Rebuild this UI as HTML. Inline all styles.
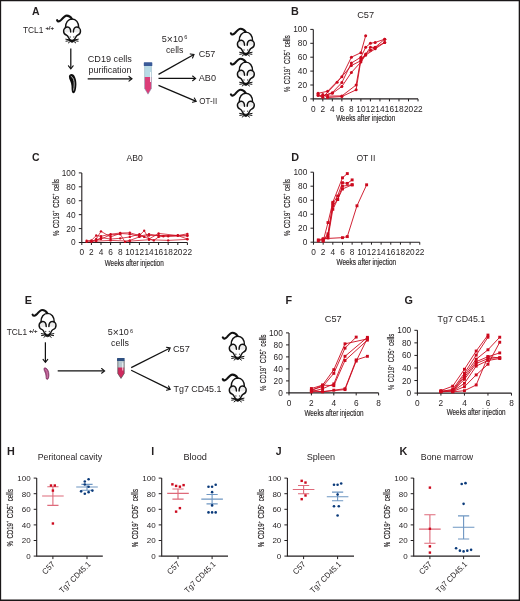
<!DOCTYPE html>
<html><head><meta charset="utf-8"><style>
html,body{margin:0;padding:0;background:#fff;}
svg{display:block;will-change:transform;}
text{font-family:"Liberation Sans", sans-serif;}
</style></head><body>
<svg width="520" height="601" viewBox="0 0 520 601" font-family="Liberation Sans, sans-serif">
<defs><g id="mouse" fill="none" stroke="#111" stroke-linecap="round" stroke-linejoin="round">
<ellipse cx="5" cy="15.2" rx="3.2" ry="2.4" fill="#ececec" stroke="none"/>
<ellipse cx="14.7" cy="15.2" rx="3.2" ry="2.4" fill="#ececec" stroke="none"/>
<path d="M-5.1 5.3 C-4.3 7.1 -2.6 6.8 -1 5 C0.8 2.8 2.6 0.7 4.6 0.7 C6.6 0.7 8.3 1.7 9.6 3.9" stroke-width="2.1"/>
<path d="M3.3 12.6 C3.2 7.5 6 4.1 9.9 4.1 C13.8 4.1 16.6 7.5 16.5 12.6" stroke-width="1.45"/>
<path d="M8.5 17.2 C8.6 14.2 7.3 12.2 5.3 12.2 C3.2 12.2 1.4 13.9 1.4 16 C1.4 18.3 2.8 19.9 4.5 20.3 C5.5 20.6 5.9 21.6 6.5 23 L8.3 25.7" stroke-width="1.45"/>
<path d="M11.2 17.2 C11.1 14.2 12.4 12.2 14.4 12.2 C16.5 12.2 18.3 13.9 18.3 16 C18.3 18.3 16.9 19.9 15.2 20.3 C14.2 20.6 13.8 21.6 13.2 23 L11.4 25.7" stroke-width="1.45"/>
<circle cx="8" cy="22.1" r="0.75" fill="#555" stroke="none"/>
<circle cx="11.7" cy="22.1" r="0.75" fill="#555" stroke="none"/>
<path d="M7.3 24.7 Q9.85 25.5 12.4 24.7 L11.4 26.9 Q9.85 28.2 8.3 26.9 Z" fill="#111" stroke-width="0.6"/>
<path d="M7.6 25 L3.6 24.3 M7.7 25.6 L3.8 26.3 M8.3 26.3 L6.2 28 M12.1 25 L16.1 24.3 M12 25.6 L15.9 26.3 M11.4 26.3 L13.5 28" stroke-width="1.0"/>
</g></defs>
<rect x="0" y="0" width="520" height="601" fill="#fff"/>
<path d="M0 0 H520 V1.15 H0 Z M0 0 H1.15 V601 H0 Z M518.7 0 H520 V601 H518.7 Z M0 599.6 H520 V601 H0 Z" fill="#1a1718"/>
<text x="32.00" y="14.60" font-size="10.5" text-anchor="start" font-weight="bold" fill="#231f20" >A</text>
<text x="23" y="32.8" font-size="9.3" fill="#231f20" textLength="20.4" lengthAdjust="spacingAndGlyphs">TCL1</text>
<text x="45.40" y="30.00" font-size="5.9" text-anchor="start" fill="#231f20" stroke="#231f20" stroke-width="0.2">+/+</text>
<use href="#mouse" transform="translate(62.20,14.90) scale(1.0)"/>
<path d="M70.80 48.50 L70.80 68.20" stroke="#111" stroke-width="1.25"/>
<path d="M68.45 65.80 L70.80 68.80 L73.15 65.80" stroke="#111" stroke-width="1.1" fill="none" stroke-linejoin="miter" stroke-linecap="round"/>
<path d="M71.5 74 C74.5 74 76.5 79 76.4 84 C76.3 89 75.5 93.2 73.5 93.2 C71.5 93.2 71.6 89 71.5 86 C71.4 82 68.8 79.5 68.9 76.6 C69 74.9 70.2 74 71.5 74 Z" fill="#0d0d0d"/>
<path d="M71.2 76.4 C73.4 77 74.3 81 74.2 84 C74.1 87 73.9 88.8 73.5 90.2" stroke="#b8b8b8" stroke-width="1.0" fill="none" stroke-linecap="round"/>
<text x="87.8" y="61.9" font-size="9" fill="#231f20" textLength="44" lengthAdjust="spacingAndGlyphs">CD19 cells</text>
<text x="88.6" y="72.9" font-size="9" fill="#231f20" textLength="42.8" lengthAdjust="spacingAndGlyphs">purification</text>
<path d="M87.70 78.80 L131.40 78.80" stroke="#111" stroke-width="1.25"/>
<path d="M129.00 81.15 L132.00 78.80 L129.00 76.45" stroke="#111" stroke-width="1.1" fill="none" stroke-linejoin="miter" stroke-linecap="round"/>
<path d="M144.6 66 H151.4 V88.5 L148 94.2 L144.6 88.5 Z" fill="#b9dbe6"/>
<path d="M144.6 77 H151.4 V88.5 L148 94.2 L144.6 88.5 Z" fill="#dc3c78"/>
<path d="M144.6 66 V88.5 L148 94.2 L151.4 88.5 V66" fill="none" stroke="#8aa8b8" stroke-width="0.5"/>
<rect x="150" y="72" width="0.9" height="10" fill="#fff"/>
<rect x="143.8" y="62.3" width="8.5" height="3.8" rx="0.6" fill="#3a5a98"/>
<path d="M158.50 74.40 L193.48 54.79" stroke="#111" stroke-width="1.25"/>
<path d="M192.53 58.02 L194.00 54.50 L190.23 53.92" stroke="#111" stroke-width="1.1" fill="none" stroke-linejoin="miter" stroke-linecap="round"/>
<path d="M158.50 78.40 L195.00 78.40" stroke="#111" stroke-width="1.25"/>
<path d="M192.60 80.75 L195.60 78.40 L192.60 76.05" stroke="#111" stroke-width="1.1" fill="none" stroke-linejoin="miter" stroke-linecap="round"/>
<path d="M158.50 85.40 L195.65 101.07" stroke="#111" stroke-width="1.25"/>
<path d="M192.52 102.30 L196.20 101.30 L194.35 97.97" stroke="#111" stroke-width="1.1" fill="none" stroke-linejoin="miter" stroke-linecap="round"/>
<text x="161.80" y="41.90" font-size="9.3" text-anchor="start" fill="#231f20" textLength="21.2" lengthAdjust="spacingAndGlyphs" >5<tspan font-size="10.6" dy="0.8">×</tspan><tspan dy="-0.8">10</tspan></text>
<text x="184.30" y="39.40" font-size="5.6" text-anchor="start" fill="#231f20" >6</text>
<text x="165.90" y="52.60" font-size="8.75" text-anchor="start" fill="#231f20" >cells</text>
<text x="198.70" y="56.90" font-size="9.0" text-anchor="start" fill="#231f20" >C57</text>
<text x="198.80" y="80.50" font-size="9.1" text-anchor="start" fill="#231f20" >AB0</text>
<text x="199.30" y="104.10" font-size="8.8" text-anchor="start" fill="#231f20" textLength="17.9" lengthAdjust="spacingAndGlyphs" >OT-II</text>
<use href="#mouse" transform="translate(236.00,28.00) scale(1.0)"/>
<use href="#mouse" transform="translate(236.00,58.00) scale(1.0)"/>
<use href="#mouse" transform="translate(236.00,89.10) scale(1.0)"/>
<text x="291.00" y="14.60" font-size="10.8" text-anchor="start" font-weight="bold" fill="#231f20" >B</text>
<text x="365.60" y="17.60" font-size="9.2" text-anchor="middle" fill="#231f20" >C57</text>
<path d="M313.30 29.40 V98.90 H418.02" fill="none" stroke="#231f20" stroke-width="1.1"/>
<path d="M310.30 98.90 H313.30" stroke="#231f20" stroke-width="1"/>
<text x="307.10" y="101.89" font-size="8.3" text-anchor="end" fill="#231f20" >0</text>
<path d="M310.30 85.00 H313.30" stroke="#231f20" stroke-width="1"/>
<text x="307.10" y="87.99" font-size="8.3" text-anchor="end" fill="#231f20" >20</text>
<path d="M310.30 71.10 H313.30" stroke="#231f20" stroke-width="1"/>
<text x="307.10" y="74.09" font-size="8.3" text-anchor="end" fill="#231f20" >40</text>
<path d="M310.30 57.20 H313.30" stroke="#231f20" stroke-width="1"/>
<text x="307.10" y="60.19" font-size="8.3" text-anchor="end" fill="#231f20" >60</text>
<path d="M310.30 43.30 H313.30" stroke="#231f20" stroke-width="1"/>
<text x="307.10" y="46.29" font-size="8.3" text-anchor="end" fill="#231f20" >80</text>
<path d="M310.30 29.40 H313.30" stroke="#231f20" stroke-width="1"/>
<text x="307.10" y="32.39" font-size="8.3" text-anchor="end" fill="#231f20" >100</text>
<path d="M313.30 98.90 V101.40" stroke="#231f20" stroke-width="1"/>
<text x="313.30" y="111.80" font-size="8.3" text-anchor="middle" fill="#231f20" >0</text>
<path d="M322.82 98.90 V101.40" stroke="#231f20" stroke-width="1"/>
<text x="322.82" y="111.80" font-size="8.3" text-anchor="middle" fill="#231f20" >2</text>
<path d="M332.34 98.90 V101.40" stroke="#231f20" stroke-width="1"/>
<text x="332.34" y="111.80" font-size="8.3" text-anchor="middle" fill="#231f20" >4</text>
<path d="M341.86 98.90 V101.40" stroke="#231f20" stroke-width="1"/>
<text x="341.86" y="111.80" font-size="8.3" text-anchor="middle" fill="#231f20" >6</text>
<path d="M351.38 98.90 V101.40" stroke="#231f20" stroke-width="1"/>
<text x="351.38" y="111.80" font-size="8.3" text-anchor="middle" fill="#231f20" >8</text>
<path d="M360.90 98.90 V101.40" stroke="#231f20" stroke-width="1"/>
<text x="360.90" y="111.80" font-size="8.3" text-anchor="middle" fill="#231f20" >10</text>
<path d="M370.42 98.90 V101.40" stroke="#231f20" stroke-width="1"/>
<text x="370.42" y="111.80" font-size="8.3" text-anchor="middle" fill="#231f20" >12</text>
<path d="M379.94 98.90 V101.40" stroke="#231f20" stroke-width="1"/>
<text x="379.94" y="111.80" font-size="8.3" text-anchor="middle" fill="#231f20" >14</text>
<path d="M389.46 98.90 V101.40" stroke="#231f20" stroke-width="1"/>
<text x="389.46" y="111.80" font-size="8.3" text-anchor="middle" fill="#231f20" >16</text>
<path d="M398.98 98.90 V101.40" stroke="#231f20" stroke-width="1"/>
<text x="398.98" y="111.80" font-size="8.3" text-anchor="middle" fill="#231f20" >18</text>
<path d="M408.50 98.90 V101.40" stroke="#231f20" stroke-width="1"/>
<text x="408.50" y="111.80" font-size="8.3" text-anchor="middle" fill="#231f20" >20</text>
<path d="M418.02 98.90 V101.40" stroke="#231f20" stroke-width="1"/>
<text x="418.02" y="111.80" font-size="8.3" text-anchor="middle" fill="#231f20" >22</text>
<path d="M318.06 93.34 L327.58 91.26 L341.86 76.66 L351.38 57.20 L360.90 52.68 L365.66 35.79" fill="none" stroke="#cc0a1e" stroke-width="0.9" stroke-linejoin="round"/>
<circle cx="318.06" cy="93.34" r="1.50" fill="#cc0a1e"/>
<circle cx="327.58" cy="91.26" r="1.50" fill="#cc0a1e"/>
<circle cx="341.86" cy="76.66" r="1.50" fill="#cc0a1e"/>
<circle cx="351.38" cy="57.20" r="1.50" fill="#cc0a1e"/>
<circle cx="360.90" cy="52.68" r="1.50" fill="#cc0a1e"/>
<circle cx="365.66" cy="35.79" r="1.50" fill="#cc0a1e"/>
<path d="M318.06 94.73 L322.82 96.12 L332.34 92.65 L341.86 82.57 L351.38 63.04 L360.90 57.20 L365.66 47.33 L370.42 43.30 L375.18 42.47 L384.70 39.13" fill="none" stroke="#cc0a1e" stroke-width="0.9" stroke-linejoin="round"/>
<circle cx="318.06" cy="94.73" r="1.50" fill="#cc0a1e"/>
<circle cx="322.82" cy="96.12" r="1.50" fill="#cc0a1e"/>
<circle cx="332.34" cy="92.65" r="1.50" fill="#cc0a1e"/>
<circle cx="341.86" cy="82.57" r="1.50" fill="#cc0a1e"/>
<circle cx="351.38" cy="63.04" r="1.50" fill="#cc0a1e"/>
<circle cx="360.90" cy="57.20" r="1.50" fill="#cc0a1e"/>
<circle cx="365.66" cy="47.33" r="1.50" fill="#cc0a1e"/>
<circle cx="370.42" cy="43.30" r="1.50" fill="#cc0a1e"/>
<circle cx="375.18" cy="42.47" r="1.50" fill="#cc0a1e"/>
<circle cx="384.70" cy="39.13" r="1.50" fill="#cc0a1e"/>
<path d="M318.06 95.43 L322.82 97.37 L337.10 82.22 L351.38 65.54 L360.90 60.68 L365.66 54.07 L370.42 47.33 L375.18 47.33 L384.70 39.13" fill="none" stroke="#cc0a1e" stroke-width="0.9" stroke-linejoin="round"/>
<circle cx="318.06" cy="95.43" r="1.50" fill="#cc0a1e"/>
<circle cx="322.82" cy="97.37" r="1.50" fill="#cc0a1e"/>
<circle cx="337.10" cy="82.22" r="1.50" fill="#cc0a1e"/>
<circle cx="351.38" cy="65.54" r="1.50" fill="#cc0a1e"/>
<circle cx="360.90" cy="60.68" r="1.50" fill="#cc0a1e"/>
<circle cx="365.66" cy="54.07" r="1.50" fill="#cc0a1e"/>
<circle cx="370.42" cy="47.33" r="1.50" fill="#cc0a1e"/>
<circle cx="375.18" cy="47.33" r="1.50" fill="#cc0a1e"/>
<circle cx="384.70" cy="39.13" r="1.50" fill="#cc0a1e"/>
<path d="M322.82 95.70 L332.34 93.34 L341.86 86.53 L351.38 72.49 L360.90 62.07 L365.66 55.12 L375.18 48.86 L384.70 42.47" fill="none" stroke="#cc0a1e" stroke-width="0.9" stroke-linejoin="round"/>
<circle cx="322.82" cy="95.70" r="1.50" fill="#cc0a1e"/>
<circle cx="332.34" cy="93.34" r="1.50" fill="#cc0a1e"/>
<circle cx="341.86" cy="86.53" r="1.50" fill="#cc0a1e"/>
<circle cx="351.38" cy="72.49" r="1.50" fill="#cc0a1e"/>
<circle cx="360.90" cy="62.07" r="1.50" fill="#cc0a1e"/>
<circle cx="365.66" cy="55.12" r="1.50" fill="#cc0a1e"/>
<circle cx="375.18" cy="48.86" r="1.50" fill="#cc0a1e"/>
<circle cx="384.70" cy="42.47" r="1.50" fill="#cc0a1e"/>
<path d="M327.58 96.12 L341.86 95.91 L356.14 85.00 L360.90 58.59 L370.42 50.25 L375.18 47.47 L384.70 42.47" fill="none" stroke="#cc0a1e" stroke-width="0.9" stroke-linejoin="round"/>
<circle cx="327.58" cy="96.12" r="1.50" fill="#cc0a1e"/>
<circle cx="341.86" cy="95.91" r="1.50" fill="#cc0a1e"/>
<circle cx="356.14" cy="85.00" r="1.50" fill="#cc0a1e"/>
<circle cx="360.90" cy="58.59" r="1.50" fill="#cc0a1e"/>
<circle cx="370.42" cy="50.25" r="1.50" fill="#cc0a1e"/>
<circle cx="375.18" cy="47.47" r="1.50" fill="#cc0a1e"/>
<circle cx="384.70" cy="42.47" r="1.50" fill="#cc0a1e"/>
<path d="M322.82 94.45 L327.58 97.51 L341.86 96.54 L356.14 89.87 L360.90 59.98 L365.66 55.12" fill="none" stroke="#cc0a1e" stroke-width="0.9" stroke-linejoin="round"/>
<circle cx="322.82" cy="94.45" r="1.50" fill="#cc0a1e"/>
<circle cx="327.58" cy="97.51" r="1.50" fill="#cc0a1e"/>
<circle cx="341.86" cy="96.54" r="1.50" fill="#cc0a1e"/>
<circle cx="356.14" cy="89.87" r="1.50" fill="#cc0a1e"/>
<circle cx="360.90" cy="59.98" r="1.50" fill="#cc0a1e"/>
<circle cx="365.66" cy="55.12" r="1.50" fill="#cc0a1e"/>
<text transform="translate(289.70,63.70) rotate(-90) scale(0.6807,1)" x="0" y="0" font-size="8.8" text-anchor="middle" fill="#231f20" stroke="#231f20" stroke-width="0.16" word-spacing="1.4">% CD19<tspan font-size="5.46" dy="-3.52">+</tspan><tspan dy="3.52"> CD5</tspan><tspan font-size="5.46" dy="-3.52">+</tspan><tspan dy="3.52"> cells</tspan></text>
<text stroke="#231f20" stroke-width="0.15" x="336.20" y="121.00" font-size="8.4" text-anchor="start" fill="#231f20" textLength="59.0" lengthAdjust="spacingAndGlyphs" >Weeks after injection</text>
<text x="32.00" y="160.60" font-size="10.5" text-anchor="start" font-weight="bold" fill="#231f20" >C</text>
<text x="134.60" y="160.60" font-size="8.6" text-anchor="middle" fill="#231f20" >AB0</text>
<path d="M81.80 172.90 V242.50 H187.40" fill="none" stroke="#231f20" stroke-width="1.1"/>
<path d="M78.80 242.50 H81.80" stroke="#231f20" stroke-width="1"/>
<text x="75.60" y="245.49" font-size="8.3" text-anchor="end" fill="#231f20" >0</text>
<path d="M78.80 228.58 H81.80" stroke="#231f20" stroke-width="1"/>
<text x="75.60" y="231.57" font-size="8.3" text-anchor="end" fill="#231f20" >20</text>
<path d="M78.80 214.66 H81.80" stroke="#231f20" stroke-width="1"/>
<text x="75.60" y="217.65" font-size="8.3" text-anchor="end" fill="#231f20" >40</text>
<path d="M78.80 200.74 H81.80" stroke="#231f20" stroke-width="1"/>
<text x="75.60" y="203.73" font-size="8.3" text-anchor="end" fill="#231f20" >60</text>
<path d="M78.80 186.82 H81.80" stroke="#231f20" stroke-width="1"/>
<text x="75.60" y="189.81" font-size="8.3" text-anchor="end" fill="#231f20" >80</text>
<path d="M78.80 172.90 H81.80" stroke="#231f20" stroke-width="1"/>
<text x="75.60" y="175.89" font-size="8.3" text-anchor="end" fill="#231f20" >100</text>
<path d="M81.80 242.50 V245.00" stroke="#231f20" stroke-width="1"/>
<text x="81.80" y="255.20" font-size="8.3" text-anchor="middle" fill="#231f20" >0</text>
<path d="M91.40 242.50 V245.00" stroke="#231f20" stroke-width="1"/>
<text x="91.40" y="255.20" font-size="8.3" text-anchor="middle" fill="#231f20" >2</text>
<path d="M101.00 242.50 V245.00" stroke="#231f20" stroke-width="1"/>
<text x="101.00" y="255.20" font-size="8.3" text-anchor="middle" fill="#231f20" >4</text>
<path d="M110.60 242.50 V245.00" stroke="#231f20" stroke-width="1"/>
<text x="110.60" y="255.20" font-size="8.3" text-anchor="middle" fill="#231f20" >6</text>
<path d="M120.20 242.50 V245.00" stroke="#231f20" stroke-width="1"/>
<text x="120.20" y="255.20" font-size="8.3" text-anchor="middle" fill="#231f20" >8</text>
<path d="M129.80 242.50 V245.00" stroke="#231f20" stroke-width="1"/>
<text x="129.80" y="255.20" font-size="8.3" text-anchor="middle" fill="#231f20" >10</text>
<path d="M139.40 242.50 V245.00" stroke="#231f20" stroke-width="1"/>
<text x="139.40" y="255.20" font-size="8.3" text-anchor="middle" fill="#231f20" >12</text>
<path d="M149.00 242.50 V245.00" stroke="#231f20" stroke-width="1"/>
<text x="149.00" y="255.20" font-size="8.3" text-anchor="middle" fill="#231f20" >14</text>
<path d="M158.60 242.50 V245.00" stroke="#231f20" stroke-width="1"/>
<text x="158.60" y="255.20" font-size="8.3" text-anchor="middle" fill="#231f20" >16</text>
<path d="M168.20 242.50 V245.00" stroke="#231f20" stroke-width="1"/>
<text x="168.20" y="255.20" font-size="8.3" text-anchor="middle" fill="#231f20" >18</text>
<path d="M177.80 242.50 V245.00" stroke="#231f20" stroke-width="1"/>
<text x="177.80" y="255.20" font-size="8.3" text-anchor="middle" fill="#231f20" >20</text>
<path d="M187.40 242.50 V245.00" stroke="#231f20" stroke-width="1"/>
<text x="187.40" y="255.20" font-size="8.3" text-anchor="middle" fill="#231f20" >22</text>
<path d="M86.60 240.69 L91.40 240.41 L96.20 235.54 L101.00 236.24 L110.60 234.15 L120.20 233.03 L129.80 232.76 L139.40 235.54 L144.20 230.67 L149.00 239.02 L158.60 233.45 L177.80 235.54 L187.40 233.80" fill="none" stroke="#cc0a1e" stroke-width="0.75" stroke-linejoin="round"/>
<circle cx="86.60" cy="240.69" r="1.17" fill="#cc0a1e"/>
<circle cx="91.40" cy="240.41" r="1.17" fill="#cc0a1e"/>
<circle cx="96.20" cy="235.54" r="1.17" fill="#cc0a1e"/>
<circle cx="101.00" cy="236.24" r="1.17" fill="#cc0a1e"/>
<circle cx="110.60" cy="234.15" r="1.17" fill="#cc0a1e"/>
<circle cx="120.20" cy="233.03" r="1.17" fill="#cc0a1e"/>
<circle cx="129.80" cy="232.76" r="1.17" fill="#cc0a1e"/>
<circle cx="139.40" cy="235.54" r="1.17" fill="#cc0a1e"/>
<circle cx="144.20" cy="230.67" r="1.17" fill="#cc0a1e"/>
<circle cx="149.00" cy="239.02" r="1.17" fill="#cc0a1e"/>
<circle cx="158.60" cy="233.45" r="1.17" fill="#cc0a1e"/>
<circle cx="177.80" cy="235.54" r="1.17" fill="#cc0a1e"/>
<circle cx="187.40" cy="233.80" r="1.17" fill="#cc0a1e"/>
<path d="M91.40 241.80 L96.20 239.02 L101.00 231.36 L110.60 236.93 L120.20 233.45 L129.80 234.15 L139.40 236.24 L149.00 234.15 L158.60 235.54 L168.20 236.24 L177.80 235.54 L187.40 235.19" fill="none" stroke="#cc0a1e" stroke-width="0.75" stroke-linejoin="round"/>
<circle cx="91.40" cy="241.80" r="1.17" fill="#cc0a1e"/>
<circle cx="96.20" cy="239.02" r="1.17" fill="#cc0a1e"/>
<circle cx="101.00" cy="231.36" r="1.17" fill="#cc0a1e"/>
<circle cx="110.60" cy="236.93" r="1.17" fill="#cc0a1e"/>
<circle cx="120.20" cy="233.45" r="1.17" fill="#cc0a1e"/>
<circle cx="129.80" cy="234.15" r="1.17" fill="#cc0a1e"/>
<circle cx="139.40" cy="236.24" r="1.17" fill="#cc0a1e"/>
<circle cx="149.00" cy="234.15" r="1.17" fill="#cc0a1e"/>
<circle cx="158.60" cy="235.54" r="1.17" fill="#cc0a1e"/>
<circle cx="168.20" cy="236.24" r="1.17" fill="#cc0a1e"/>
<circle cx="177.80" cy="235.54" r="1.17" fill="#cc0a1e"/>
<circle cx="187.40" cy="235.19" r="1.17" fill="#cc0a1e"/>
<path d="M96.20 240.41 L101.00 237.63 L110.60 239.02 L120.20 238.32 L129.80 236.93 L139.40 234.15 L144.20 236.93 L153.80 240.41 L158.60 236.93 L163.40 236.24 L187.40 235.89" fill="none" stroke="#cc0a1e" stroke-width="0.75" stroke-linejoin="round"/>
<circle cx="96.20" cy="240.41" r="1.17" fill="#cc0a1e"/>
<circle cx="101.00" cy="237.63" r="1.17" fill="#cc0a1e"/>
<circle cx="110.60" cy="239.02" r="1.17" fill="#cc0a1e"/>
<circle cx="120.20" cy="238.32" r="1.17" fill="#cc0a1e"/>
<circle cx="129.80" cy="236.93" r="1.17" fill="#cc0a1e"/>
<circle cx="139.40" cy="234.15" r="1.17" fill="#cc0a1e"/>
<circle cx="144.20" cy="236.93" r="1.17" fill="#cc0a1e"/>
<circle cx="153.80" cy="240.41" r="1.17" fill="#cc0a1e"/>
<circle cx="158.60" cy="236.93" r="1.17" fill="#cc0a1e"/>
<circle cx="163.40" cy="236.24" r="1.17" fill="#cc0a1e"/>
<circle cx="187.40" cy="235.89" r="1.17" fill="#cc0a1e"/>
<path d="M91.40 241.11 L101.00 239.02 L110.60 234.84 L120.20 234.15 L125.00 241.80 L129.80 240.41 L139.40 236.93 L149.00 235.54 L158.60 235.54 L177.80 235.54 L187.40 239.02" fill="none" stroke="#cc0a1e" stroke-width="0.75" stroke-linejoin="round"/>
<circle cx="91.40" cy="241.11" r="1.17" fill="#cc0a1e"/>
<circle cx="101.00" cy="239.02" r="1.17" fill="#cc0a1e"/>
<circle cx="110.60" cy="234.84" r="1.17" fill="#cc0a1e"/>
<circle cx="120.20" cy="234.15" r="1.17" fill="#cc0a1e"/>
<circle cx="125.00" cy="241.80" r="1.17" fill="#cc0a1e"/>
<circle cx="129.80" cy="240.41" r="1.17" fill="#cc0a1e"/>
<circle cx="139.40" cy="236.93" r="1.17" fill="#cc0a1e"/>
<circle cx="149.00" cy="235.54" r="1.17" fill="#cc0a1e"/>
<circle cx="158.60" cy="235.54" r="1.17" fill="#cc0a1e"/>
<circle cx="177.80" cy="235.54" r="1.17" fill="#cc0a1e"/>
<circle cx="187.40" cy="239.02" r="1.17" fill="#cc0a1e"/>
<path d="M86.60 241.80 L96.20 241.11 L110.60 240.41 L129.80 241.11 L149.00 239.72 L168.20 240.41 L187.40 239.37" fill="none" stroke="#cc0a1e" stroke-width="0.75" stroke-linejoin="round"/>
<circle cx="86.60" cy="241.80" r="1.17" fill="#cc0a1e"/>
<circle cx="96.20" cy="241.11" r="1.17" fill="#cc0a1e"/>
<circle cx="110.60" cy="240.41" r="1.17" fill="#cc0a1e"/>
<circle cx="129.80" cy="241.11" r="1.17" fill="#cc0a1e"/>
<circle cx="149.00" cy="239.72" r="1.17" fill="#cc0a1e"/>
<circle cx="168.20" cy="240.41" r="1.17" fill="#cc0a1e"/>
<circle cx="187.40" cy="239.37" r="1.17" fill="#cc0a1e"/>
<text transform="translate(58.50,207.50) rotate(-90) scale(0.6855,1)" x="0" y="0" font-size="8.8" text-anchor="middle" fill="#231f20" stroke="#231f20" stroke-width="0.16" word-spacing="1.4">% CD19<tspan font-size="5.46" dy="-3.52">+</tspan><tspan dy="3.52"> CD5</tspan><tspan font-size="5.46" dy="-3.52">+</tspan><tspan dy="3.52"> cells</tspan></text>
<text stroke="#231f20" stroke-width="0.15" x="104.70" y="265.50" font-size="8.4" text-anchor="start" fill="#231f20" textLength="59.0" lengthAdjust="spacingAndGlyphs" >Weeks after injection</text>
<text x="291.30" y="160.60" font-size="10.8" text-anchor="start" font-weight="bold" fill="#231f20" >D</text>
<text x="365.90" y="160.60" font-size="8.6" text-anchor="middle" fill="#231f20" >OT II</text>
<path d="M313.50 172.20 V242.20 H419.76" fill="none" stroke="#231f20" stroke-width="1.1"/>
<path d="M310.50 242.20 H313.50" stroke="#231f20" stroke-width="1"/>
<text x="307.30" y="245.19" font-size="8.3" text-anchor="end" fill="#231f20" >0</text>
<path d="M310.50 228.20 H313.50" stroke="#231f20" stroke-width="1"/>
<text x="307.30" y="231.19" font-size="8.3" text-anchor="end" fill="#231f20" >20</text>
<path d="M310.50 214.20 H313.50" stroke="#231f20" stroke-width="1"/>
<text x="307.30" y="217.19" font-size="8.3" text-anchor="end" fill="#231f20" >40</text>
<path d="M310.50 200.20 H313.50" stroke="#231f20" stroke-width="1"/>
<text x="307.30" y="203.19" font-size="8.3" text-anchor="end" fill="#231f20" >60</text>
<path d="M310.50 186.20 H313.50" stroke="#231f20" stroke-width="1"/>
<text x="307.30" y="189.19" font-size="8.3" text-anchor="end" fill="#231f20" >80</text>
<path d="M310.50 172.20 H313.50" stroke="#231f20" stroke-width="1"/>
<text x="307.30" y="175.19" font-size="8.3" text-anchor="end" fill="#231f20" >100</text>
<path d="M313.50 242.20 V244.70" stroke="#231f20" stroke-width="1"/>
<text x="313.50" y="255.20" font-size="8.3" text-anchor="middle" fill="#231f20" >0</text>
<path d="M323.16 242.20 V244.70" stroke="#231f20" stroke-width="1"/>
<text x="323.16" y="255.20" font-size="8.3" text-anchor="middle" fill="#231f20" >2</text>
<path d="M332.82 242.20 V244.70" stroke="#231f20" stroke-width="1"/>
<text x="332.82" y="255.20" font-size="8.3" text-anchor="middle" fill="#231f20" >4</text>
<path d="M342.48 242.20 V244.70" stroke="#231f20" stroke-width="1"/>
<text x="342.48" y="255.20" font-size="8.3" text-anchor="middle" fill="#231f20" >6</text>
<path d="M352.14 242.20 V244.70" stroke="#231f20" stroke-width="1"/>
<text x="352.14" y="255.20" font-size="8.3" text-anchor="middle" fill="#231f20" >8</text>
<path d="M361.80 242.20 V244.70" stroke="#231f20" stroke-width="1"/>
<text x="361.80" y="255.20" font-size="8.3" text-anchor="middle" fill="#231f20" >10</text>
<path d="M371.46 242.20 V244.70" stroke="#231f20" stroke-width="1"/>
<text x="371.46" y="255.20" font-size="8.3" text-anchor="middle" fill="#231f20" >12</text>
<path d="M381.12 242.20 V244.70" stroke="#231f20" stroke-width="1"/>
<text x="381.12" y="255.20" font-size="8.3" text-anchor="middle" fill="#231f20" >14</text>
<path d="M390.78 242.20 V244.70" stroke="#231f20" stroke-width="1"/>
<text x="390.78" y="255.20" font-size="8.3" text-anchor="middle" fill="#231f20" >16</text>
<path d="M400.44 242.20 V244.70" stroke="#231f20" stroke-width="1"/>
<text x="400.44" y="255.20" font-size="8.3" text-anchor="middle" fill="#231f20" >18</text>
<path d="M410.10 242.20 V244.70" stroke="#231f20" stroke-width="1"/>
<text x="410.10" y="255.20" font-size="8.3" text-anchor="middle" fill="#231f20" >20</text>
<path d="M419.76 242.20 V244.70" stroke="#231f20" stroke-width="1"/>
<text x="419.76" y="255.20" font-size="8.3" text-anchor="middle" fill="#231f20" >22</text>
<path d="M318.33 239.89 L323.16 238.70 L342.48 237.65 L347.31 236.60 L356.97 205.80 L366.63 184.80" fill="none" stroke="#cc0a1e" stroke-width="0.9" stroke-linejoin="round"/>
<rect x="316.88" y="238.44" width="2.90" height="2.90" fill="#cc0a1e"/>
<rect x="321.71" y="237.25" width="2.90" height="2.90" fill="#cc0a1e"/>
<rect x="341.03" y="236.20" width="2.90" height="2.90" fill="#cc0a1e"/>
<rect x="345.86" y="235.15" width="2.90" height="2.90" fill="#cc0a1e"/>
<rect x="355.52" y="204.35" width="2.90" height="2.90" fill="#cc0a1e"/>
<rect x="365.18" y="183.35" width="2.90" height="2.90" fill="#cc0a1e"/>
<path d="M323.16 241.15 L327.99 222.60 L332.82 202.30 L342.48 177.80 L347.31 173.60" fill="none" stroke="#cc0a1e" stroke-width="0.9" stroke-linejoin="round"/>
<rect x="321.71" y="239.70" width="2.90" height="2.90" fill="#cc0a1e"/>
<rect x="326.54" y="221.15" width="2.90" height="2.90" fill="#cc0a1e"/>
<rect x="331.37" y="200.85" width="2.90" height="2.90" fill="#cc0a1e"/>
<rect x="341.03" y="176.35" width="2.90" height="2.90" fill="#cc0a1e"/>
<rect x="345.86" y="172.15" width="2.90" height="2.90" fill="#cc0a1e"/>
<path d="M323.16 240.45 L327.99 233.80 L332.82 203.70 L337.65 196.00 L342.48 182.70 L347.31 183.40 L352.14 179.90" fill="none" stroke="#cc0a1e" stroke-width="0.9" stroke-linejoin="round"/>
<rect x="321.71" y="239.00" width="2.90" height="2.90" fill="#cc0a1e"/>
<rect x="326.54" y="232.35" width="2.90" height="2.90" fill="#cc0a1e"/>
<rect x="331.37" y="202.25" width="2.90" height="2.90" fill="#cc0a1e"/>
<rect x="336.20" y="194.55" width="2.90" height="2.90" fill="#cc0a1e"/>
<rect x="341.03" y="181.25" width="2.90" height="2.90" fill="#cc0a1e"/>
<rect x="345.86" y="181.95" width="2.90" height="2.90" fill="#cc0a1e"/>
<rect x="350.69" y="178.45" width="2.90" height="2.90" fill="#cc0a1e"/>
<path d="M323.16 239.40 L327.99 235.90 L332.82 205.80 L337.65 199.50 L342.48 186.20 L352.14 184.80" fill="none" stroke="#cc0a1e" stroke-width="0.9" stroke-linejoin="round"/>
<rect x="321.71" y="237.95" width="2.90" height="2.90" fill="#cc0a1e"/>
<rect x="326.54" y="234.45" width="2.90" height="2.90" fill="#cc0a1e"/>
<rect x="331.37" y="204.35" width="2.90" height="2.90" fill="#cc0a1e"/>
<rect x="336.20" y="198.05" width="2.90" height="2.90" fill="#cc0a1e"/>
<rect x="341.03" y="184.75" width="2.90" height="2.90" fill="#cc0a1e"/>
<rect x="350.69" y="183.35" width="2.90" height="2.90" fill="#cc0a1e"/>
<path d="M318.33 240.80 L327.99 238.00 L332.82 209.30 L337.65 199.50 L342.48 189.00 L352.14 184.80" fill="none" stroke="#cc0a1e" stroke-width="0.9" stroke-linejoin="round"/>
<rect x="316.88" y="239.35" width="2.90" height="2.90" fill="#cc0a1e"/>
<rect x="326.54" y="236.55" width="2.90" height="2.90" fill="#cc0a1e"/>
<rect x="331.37" y="207.85" width="2.90" height="2.90" fill="#cc0a1e"/>
<rect x="336.20" y="198.05" width="2.90" height="2.90" fill="#cc0a1e"/>
<rect x="341.03" y="187.55" width="2.90" height="2.90" fill="#cc0a1e"/>
<rect x="350.69" y="183.35" width="2.90" height="2.90" fill="#cc0a1e"/>
<text transform="translate(290.00,207.50) rotate(-90) scale(0.6855,1)" x="0" y="0" font-size="8.8" text-anchor="middle" fill="#231f20" stroke="#231f20" stroke-width="0.16" word-spacing="1.4">% CD19<tspan font-size="5.46" dy="-3.52">+</tspan><tspan dy="3.52"> CD5</tspan><tspan font-size="5.46" dy="-3.52">+</tspan><tspan dy="3.52"> cells</tspan></text>
<text stroke="#231f20" stroke-width="0.15" x="336.50" y="264.80" font-size="8.4" text-anchor="start" fill="#231f20" textLength="59.6" lengthAdjust="spacingAndGlyphs" >Weeks after injection</text>
<text x="24.80" y="303.80" font-size="10.8" text-anchor="start" font-weight="bold" fill="#231f20" >E</text>
<text x="6.8" y="335.2" font-size="9.3" fill="#231f20" textLength="20.3" lengthAdjust="spacingAndGlyphs">TCL1</text>
<text x="28.90" y="332.60" font-size="5.9" text-anchor="start" fill="#231f20" stroke="#231f20" stroke-width="0.2">+/+</text>
<use href="#mouse" transform="translate(37.70,309.30) scale(1.0)"/>
<path d="M45.40 342.30 L45.40 361.80" stroke="#111" stroke-width="1.25"/>
<path d="M43.05 359.40 L45.40 362.40 L47.75 359.40" stroke="#111" stroke-width="1.1" fill="none" stroke-linejoin="miter" stroke-linecap="round"/>
<path d="M45 367.8 C47.4 368.2 49 371.5 48.9 375 C48.8 378 48.1 379.4 47.1 379.4 C46 379.4 46.1 377 45.9 375 C45.6 372.5 43.9 370.6 44 369 C44.1 368.1 44.5 367.7 45 367.8 Z" fill="#b24f88" stroke="#6a2452" stroke-width="0.7"/>
<path d="M45.2 369.3 C46.7 370 47.4 372.5 47.4 375 C47.4 376.5 47.2 377.5 47 378" stroke="#d58cb5" stroke-width="0.7" fill="none"/>
<path d="M57.70 370.90 L104.00 370.90" stroke="#111" stroke-width="1.25"/>
<path d="M101.60 373.25 L104.60 370.90 L101.60 368.55" stroke="#111" stroke-width="1.1" fill="none" stroke-linejoin="miter" stroke-linecap="round"/>
<text x="107.80" y="335.40" font-size="9.3" text-anchor="start" fill="#231f20" textLength="21.0" lengthAdjust="spacingAndGlyphs" >5<tspan font-size="10.6" dy="0.8">×</tspan><tspan dy="-0.8">10</tspan></text>
<text x="130.00" y="332.60" font-size="5.6" text-anchor="start" fill="#231f20" >6</text>
<text x="111.10" y="345.60" font-size="8.9" text-anchor="start" fill="#231f20" >cells</text>
<path d="M117.8 360.6 H124.2 V373.5 L121 378.4 L117.8 373.5 Z" fill="#b8c8d0"/>
<path d="M117.8 367.4 H124.2 V373.5 L121 378.4 L117.8 373.5 Z" fill="#cf2a5e"/>
<path d="M117.8 360.6 V373.5 L121 378.4 L124.2 373.5 V360.6" fill="none" stroke="#555" stroke-width="0.7"/>
<rect x="122.4" y="362.5" width="0.8" height="8" fill="#fff"/>
<rect x="117" y="358" width="7.6" height="2.9" rx="0.5" fill="#2e4f80"/>
<path d="M131.20 367.60 L169.66 348.27" stroke="#111" stroke-width="1.25"/>
<path d="M168.57 351.45 L170.20 348.00 L166.46 347.25" stroke="#111" stroke-width="1.1" fill="none" stroke-linejoin="miter" stroke-linecap="round"/>
<path d="M131.20 370.20 L169.66 389.13" stroke="#111" stroke-width="1.25"/>
<path d="M166.47 390.18 L170.20 389.40 L168.55 385.97" stroke="#111" stroke-width="1.1" fill="none" stroke-linejoin="miter" stroke-linecap="round"/>
<text x="173.00" y="351.80" font-size="8.9" text-anchor="start" fill="#231f20" textLength="16.8" lengthAdjust="spacingAndGlyphs" >C57</text>
<text x="173.50" y="392.00" font-size="9.0" text-anchor="start" fill="#231f20" textLength="48.0" lengthAdjust="spacingAndGlyphs" >Tg7 CD45.1</text>
<use href="#mouse" transform="translate(227.90,332.10) scale(1.0)"/>
<use href="#mouse" transform="translate(227.90,373.90) scale(1.0)"/>
<text x="285.60" y="303.90" font-size="10.8" text-anchor="start" font-weight="bold" fill="#231f20" >F</text>
<text x="333.20" y="322.10" font-size="9.2" text-anchor="middle" fill="#231f20" >C57</text>
<path d="M289.00 332.90 V392.90 H378.60" fill="none" stroke="#231f20" stroke-width="1.1"/>
<path d="M286.00 392.90 H289.00" stroke="#231f20" stroke-width="1"/>
<text x="282.80" y="395.89" font-size="8.3" text-anchor="end" fill="#231f20" >0</text>
<path d="M286.00 380.90 H289.00" stroke="#231f20" stroke-width="1"/>
<text x="282.80" y="383.89" font-size="8.3" text-anchor="end" fill="#231f20" >20</text>
<path d="M286.00 368.90 H289.00" stroke="#231f20" stroke-width="1"/>
<text x="282.80" y="371.89" font-size="8.3" text-anchor="end" fill="#231f20" >40</text>
<path d="M286.00 356.90 H289.00" stroke="#231f20" stroke-width="1"/>
<text x="282.80" y="359.89" font-size="8.3" text-anchor="end" fill="#231f20" >60</text>
<path d="M286.00 344.90 H289.00" stroke="#231f20" stroke-width="1"/>
<text x="282.80" y="347.89" font-size="8.3" text-anchor="end" fill="#231f20" >80</text>
<path d="M286.00 332.90 H289.00" stroke="#231f20" stroke-width="1"/>
<text x="282.80" y="335.89" font-size="8.3" text-anchor="end" fill="#231f20" >100</text>
<path d="M289.00 392.90 V395.40" stroke="#231f20" stroke-width="1"/>
<text x="289.00" y="405.80" font-size="8.3" text-anchor="middle" fill="#231f20" >0</text>
<path d="M311.40 392.90 V395.40" stroke="#231f20" stroke-width="1"/>
<text x="311.40" y="405.80" font-size="8.3" text-anchor="middle" fill="#231f20" >2</text>
<path d="M333.80 392.90 V395.40" stroke="#231f20" stroke-width="1"/>
<text x="333.80" y="405.80" font-size="8.3" text-anchor="middle" fill="#231f20" >4</text>
<path d="M356.20 392.90 V395.40" stroke="#231f20" stroke-width="1"/>
<text x="356.20" y="405.80" font-size="8.3" text-anchor="middle" fill="#231f20" >6</text>
<path d="M378.60 392.90 V395.40" stroke="#231f20" stroke-width="1"/>
<text x="378.60" y="405.80" font-size="8.3" text-anchor="middle" fill="#231f20" >8</text>
<path d="M311.40 388.52 L322.60 385.10 L333.80 369.68 L345.00 343.82 L367.40 338.90" fill="none" stroke="#cc0a1e" stroke-width="0.9" stroke-linejoin="round"/>
<rect x="309.95" y="387.07" width="2.90" height="2.90" fill="#cc0a1e"/>
<rect x="321.15" y="383.65" width="2.90" height="2.90" fill="#cc0a1e"/>
<rect x="332.35" y="368.23" width="2.90" height="2.90" fill="#cc0a1e"/>
<rect x="343.55" y="342.37" width="2.90" height="2.90" fill="#cc0a1e"/>
<rect x="365.95" y="337.45" width="2.90" height="2.90" fill="#cc0a1e"/>
<path d="M311.40 389.90 L322.60 386.60 L333.80 373.34 L345.00 348.14 L356.20 337.10" fill="none" stroke="#cc0a1e" stroke-width="0.9" stroke-linejoin="round"/>
<rect x="309.95" y="388.45" width="2.90" height="2.90" fill="#cc0a1e"/>
<rect x="321.15" y="385.15" width="2.90" height="2.90" fill="#cc0a1e"/>
<rect x="332.35" y="371.89" width="2.90" height="2.90" fill="#cc0a1e"/>
<rect x="343.55" y="346.69" width="2.90" height="2.90" fill="#cc0a1e"/>
<rect x="354.75" y="335.65" width="2.90" height="2.90" fill="#cc0a1e"/>
<path d="M311.40 391.70 L322.60 388.70 L333.80 383.90 L345.00 356.30 L367.40 337.34" fill="none" stroke="#cc0a1e" stroke-width="0.9" stroke-linejoin="round"/>
<rect x="309.95" y="390.25" width="2.90" height="2.90" fill="#cc0a1e"/>
<rect x="321.15" y="387.25" width="2.90" height="2.90" fill="#cc0a1e"/>
<rect x="332.35" y="382.45" width="2.90" height="2.90" fill="#cc0a1e"/>
<rect x="343.55" y="354.85" width="2.90" height="2.90" fill="#cc0a1e"/>
<rect x="365.95" y="335.89" width="2.90" height="2.90" fill="#cc0a1e"/>
<path d="M311.40 390.80 L322.60 385.10 L333.80 385.70 L345.00 360.50 L367.40 340.10" fill="none" stroke="#cc0a1e" stroke-width="0.9" stroke-linejoin="round"/>
<rect x="309.95" y="389.35" width="2.90" height="2.90" fill="#cc0a1e"/>
<rect x="321.15" y="383.65" width="2.90" height="2.90" fill="#cc0a1e"/>
<rect x="332.35" y="384.25" width="2.90" height="2.90" fill="#cc0a1e"/>
<rect x="343.55" y="359.05" width="2.90" height="2.90" fill="#cc0a1e"/>
<rect x="365.95" y="338.65" width="2.90" height="2.90" fill="#cc0a1e"/>
<path d="M311.40 391.70 L322.60 391.70 L333.80 390.20 L345.00 388.70 L356.20 359.90 L367.40 356.30" fill="none" stroke="#cc0a1e" stroke-width="0.9" stroke-linejoin="round"/>
<rect x="309.95" y="390.25" width="2.90" height="2.90" fill="#cc0a1e"/>
<rect x="321.15" y="390.25" width="2.90" height="2.90" fill="#cc0a1e"/>
<rect x="332.35" y="388.75" width="2.90" height="2.90" fill="#cc0a1e"/>
<rect x="343.55" y="387.25" width="2.90" height="2.90" fill="#cc0a1e"/>
<rect x="354.75" y="358.45" width="2.90" height="2.90" fill="#cc0a1e"/>
<rect x="365.95" y="354.85" width="2.90" height="2.90" fill="#cc0a1e"/>
<path d="M311.40 390.50 L322.60 391.70 L345.00 389.60 L356.20 361.10 L367.40 338.30" fill="none" stroke="#cc0a1e" stroke-width="0.9" stroke-linejoin="round"/>
<rect x="309.95" y="389.05" width="2.90" height="2.90" fill="#cc0a1e"/>
<rect x="321.15" y="390.25" width="2.90" height="2.90" fill="#cc0a1e"/>
<rect x="343.55" y="388.15" width="2.90" height="2.90" fill="#cc0a1e"/>
<rect x="354.75" y="359.65" width="2.90" height="2.90" fill="#cc0a1e"/>
<rect x="365.95" y="336.85" width="2.90" height="2.90" fill="#cc0a1e"/>
<text transform="translate(266.00,362.80) rotate(-90) scale(0.6783,1)" x="0" y="0" font-size="8.8" text-anchor="middle" fill="#231f20" stroke="#231f20" stroke-width="0.16" word-spacing="1.4">% CD19<tspan font-size="5.46" dy="-3.52">+</tspan><tspan dy="3.52"> CD5</tspan><tspan font-size="5.46" dy="-3.52">+</tspan><tspan dy="3.52"> cells</tspan></text>
<text stroke="#231f20" stroke-width="0.15" x="304.40" y="415.50" font-size="8.4" text-anchor="start" fill="#231f20" textLength="59.1" lengthAdjust="spacingAndGlyphs" >Weeks after injection</text>
<text x="404.60" y="304.30" font-size="10.8" text-anchor="start" font-weight="bold" fill="#231f20" >G</text>
<text x="437.60" y="322.10" font-size="9.3" text-anchor="start" fill="#231f20" textLength="47.6" lengthAdjust="spacingAndGlyphs" >Tg7 CD45.1</text>
<path d="M417.40 330.30 V393.10 H511.48" fill="none" stroke="#231f20" stroke-width="1.1"/>
<path d="M414.40 393.10 H417.40" stroke="#231f20" stroke-width="1"/>
<text x="411.20" y="396.09" font-size="8.3" text-anchor="end" fill="#231f20" >0</text>
<path d="M414.40 380.54 H417.40" stroke="#231f20" stroke-width="1"/>
<text x="411.20" y="383.53" font-size="8.3" text-anchor="end" fill="#231f20" >20</text>
<path d="M414.40 367.98 H417.40" stroke="#231f20" stroke-width="1"/>
<text x="411.20" y="370.97" font-size="8.3" text-anchor="end" fill="#231f20" >40</text>
<path d="M414.40 355.42 H417.40" stroke="#231f20" stroke-width="1"/>
<text x="411.20" y="358.41" font-size="8.3" text-anchor="end" fill="#231f20" >60</text>
<path d="M414.40 342.86 H417.40" stroke="#231f20" stroke-width="1"/>
<text x="411.20" y="345.85" font-size="8.3" text-anchor="end" fill="#231f20" >80</text>
<path d="M414.40 330.30 H417.40" stroke="#231f20" stroke-width="1"/>
<text x="411.20" y="333.29" font-size="8.3" text-anchor="end" fill="#231f20" >100</text>
<path d="M417.40 393.10 V395.60" stroke="#231f20" stroke-width="1"/>
<text x="417.40" y="405.70" font-size="8.3" text-anchor="middle" fill="#231f20" >0</text>
<path d="M440.92 393.10 V395.60" stroke="#231f20" stroke-width="1"/>
<text x="440.92" y="405.70" font-size="8.3" text-anchor="middle" fill="#231f20" >2</text>
<path d="M464.44 393.10 V395.60" stroke="#231f20" stroke-width="1"/>
<text x="464.44" y="405.70" font-size="8.3" text-anchor="middle" fill="#231f20" >4</text>
<path d="M487.96 393.10 V395.60" stroke="#231f20" stroke-width="1"/>
<text x="487.96" y="405.70" font-size="8.3" text-anchor="middle" fill="#231f20" >6</text>
<path d="M511.48 393.10 V395.60" stroke="#231f20" stroke-width="1"/>
<text x="511.48" y="405.70" font-size="8.3" text-anchor="middle" fill="#231f20" >8</text>
<path d="M440.92 390.59 L452.68 386.19 L464.44 369.24 L476.20 351.02 L487.96 335.07" fill="none" stroke="#cc0a1e" stroke-width="0.9" stroke-linejoin="round"/>
<rect x="439.47" y="389.14" width="2.90" height="2.90" fill="#cc0a1e"/>
<rect x="451.23" y="384.74" width="2.90" height="2.90" fill="#cc0a1e"/>
<rect x="462.99" y="367.79" width="2.90" height="2.90" fill="#cc0a1e"/>
<rect x="474.75" y="349.57" width="2.90" height="2.90" fill="#cc0a1e"/>
<rect x="486.51" y="333.62" width="2.90" height="2.90" fill="#cc0a1e"/>
<path d="M440.92 391.47 L452.68 389.39 L464.44 373.19 L476.20 355.11 L487.96 337.21" fill="none" stroke="#cc0a1e" stroke-width="0.9" stroke-linejoin="round"/>
<rect x="439.47" y="390.02" width="2.90" height="2.90" fill="#cc0a1e"/>
<rect x="451.23" y="387.94" width="2.90" height="2.90" fill="#cc0a1e"/>
<rect x="462.99" y="371.74" width="2.90" height="2.90" fill="#cc0a1e"/>
<rect x="474.75" y="353.66" width="2.90" height="2.90" fill="#cc0a1e"/>
<rect x="486.51" y="335.76" width="2.90" height="2.90" fill="#cc0a1e"/>
<path d="M440.92 391.22 L452.68 390.71 L464.44 375.20 L476.20 359.19 L487.96 349.77 L499.72 337.21" fill="none" stroke="#cc0a1e" stroke-width="0.9" stroke-linejoin="round"/>
<rect x="439.47" y="389.77" width="2.90" height="2.90" fill="#cc0a1e"/>
<rect x="451.23" y="389.26" width="2.90" height="2.90" fill="#cc0a1e"/>
<rect x="462.99" y="373.75" width="2.90" height="2.90" fill="#cc0a1e"/>
<rect x="474.75" y="357.74" width="2.90" height="2.90" fill="#cc0a1e"/>
<rect x="486.51" y="348.32" width="2.90" height="2.90" fill="#cc0a1e"/>
<rect x="498.27" y="335.76" width="2.90" height="2.90" fill="#cc0a1e"/>
<path d="M440.92 391.47 L452.68 390.71 L464.44 377.21 L476.20 361.70 L487.96 356.68 L499.72 352.91" fill="none" stroke="#cc0a1e" stroke-width="0.9" stroke-linejoin="round"/>
<rect x="439.47" y="390.02" width="2.90" height="2.90" fill="#cc0a1e"/>
<rect x="451.23" y="389.26" width="2.90" height="2.90" fill="#cc0a1e"/>
<rect x="462.99" y="375.76" width="2.90" height="2.90" fill="#cc0a1e"/>
<rect x="474.75" y="360.25" width="2.90" height="2.90" fill="#cc0a1e"/>
<rect x="486.51" y="355.23" width="2.90" height="2.90" fill="#cc0a1e"/>
<rect x="498.27" y="351.46" width="2.90" height="2.90" fill="#cc0a1e"/>
<path d="M440.92 391.84 L452.68 391.22 L464.44 379.28 L476.20 363.58 L487.96 358.56 L499.72 357.62" fill="none" stroke="#cc0a1e" stroke-width="0.9" stroke-linejoin="round"/>
<rect x="439.47" y="390.39" width="2.90" height="2.90" fill="#cc0a1e"/>
<rect x="451.23" y="389.77" width="2.90" height="2.90" fill="#cc0a1e"/>
<rect x="462.99" y="377.83" width="2.90" height="2.90" fill="#cc0a1e"/>
<rect x="474.75" y="362.13" width="2.90" height="2.90" fill="#cc0a1e"/>
<rect x="486.51" y="357.11" width="2.90" height="2.90" fill="#cc0a1e"/>
<rect x="498.27" y="356.17" width="2.90" height="2.90" fill="#cc0a1e"/>
<path d="M452.68 391.22 L464.44 383.30 L476.20 366.10 L487.96 360.44 L499.72 358.56" fill="none" stroke="#cc0a1e" stroke-width="0.9" stroke-linejoin="round"/>
<rect x="451.23" y="389.77" width="2.90" height="2.90" fill="#cc0a1e"/>
<rect x="462.99" y="381.85" width="2.90" height="2.90" fill="#cc0a1e"/>
<rect x="474.75" y="364.65" width="2.90" height="2.90" fill="#cc0a1e"/>
<rect x="486.51" y="358.99" width="2.90" height="2.90" fill="#cc0a1e"/>
<rect x="498.27" y="357.11" width="2.90" height="2.90" fill="#cc0a1e"/>
<path d="M452.68 391.53 L464.44 386.69 L476.20 374.89 L487.96 364.21 L499.72 342.23" fill="none" stroke="#cc0a1e" stroke-width="0.9" stroke-linejoin="round"/>
<rect x="451.23" y="390.08" width="2.90" height="2.90" fill="#cc0a1e"/>
<rect x="462.99" y="385.24" width="2.90" height="2.90" fill="#cc0a1e"/>
<rect x="474.75" y="373.44" width="2.90" height="2.90" fill="#cc0a1e"/>
<rect x="486.51" y="362.76" width="2.90" height="2.90" fill="#cc0a1e"/>
<rect x="498.27" y="340.78" width="2.90" height="2.90" fill="#cc0a1e"/>
<path d="M452.68 391.84 L464.44 390.71 L476.20 384.94 L487.96 356.68 L499.72 357.93" fill="none" stroke="#cc0a1e" stroke-width="0.9" stroke-linejoin="round"/>
<rect x="451.23" y="390.39" width="2.90" height="2.90" fill="#cc0a1e"/>
<rect x="462.99" y="389.26" width="2.90" height="2.90" fill="#cc0a1e"/>
<rect x="474.75" y="383.49" width="2.90" height="2.90" fill="#cc0a1e"/>
<rect x="486.51" y="355.23" width="2.90" height="2.90" fill="#cc0a1e"/>
<rect x="498.27" y="356.48" width="2.90" height="2.90" fill="#cc0a1e"/>
<text transform="translate(394.40,361.90) rotate(-90) scale(0.6735,1)" x="0" y="0" font-size="8.8" text-anchor="middle" fill="#231f20" stroke="#231f20" stroke-width="0.16" word-spacing="1.4">% CD19<tspan font-size="5.46" dy="-3.52">+</tspan><tspan dy="3.52"> CD5</tspan><tspan font-size="5.46" dy="-3.52">+</tspan><tspan dy="3.52"> cells</tspan></text>
<text stroke="#231f20" stroke-width="0.15" x="446.70" y="415.40" font-size="8.4" text-anchor="start" fill="#231f20" textLength="58.9" lengthAdjust="spacingAndGlyphs" >Weeks after injection</text>
<text x="7.00" y="454.70" font-size="10.8" text-anchor="start" font-weight="bold" fill="#231f20" >H</text>
<text x="69.90" y="460.20" font-size="8.8" text-anchor="middle" fill="#231f20" >Peritoneal cavity</text>
<path d="M36.70 478.10 V556.10 H102.80" fill="none" stroke="#231f20" stroke-width="1.1"/>
<path d="M33.70 556.10 H36.70" stroke="#231f20" stroke-width="1"/>
<text x="30.60" y="559.00" font-size="8" text-anchor="end" fill="#231f20" >0</text>
<path d="M33.70 540.50 H36.70" stroke="#231f20" stroke-width="1"/>
<text x="30.60" y="543.40" font-size="8" text-anchor="end" fill="#231f20" >20</text>
<path d="M33.70 524.90 H36.70" stroke="#231f20" stroke-width="1"/>
<text x="30.60" y="527.80" font-size="8" text-anchor="end" fill="#231f20" >40</text>
<path d="M33.70 509.30 H36.70" stroke="#231f20" stroke-width="1"/>
<text x="30.60" y="512.20" font-size="8" text-anchor="end" fill="#231f20" >60</text>
<path d="M33.70 493.70 H36.70" stroke="#231f20" stroke-width="1"/>
<text x="30.60" y="496.60" font-size="8" text-anchor="end" fill="#231f20" >80</text>
<path d="M33.70 478.10 H36.70" stroke="#231f20" stroke-width="1"/>
<text x="30.60" y="481.00" font-size="8" text-anchor="end" fill="#231f20" >100</text>
<path d="M52.90 556.10 V559.10" stroke="#231f20" stroke-width="1"/>
<path d="M87.00 556.10 V559.10" stroke="#231f20" stroke-width="1"/>
<text transform="translate(55.40,564.70) rotate(-45)" font-size="8" text-anchor="end" fill="#231f20" textLength="14.4" lengthAdjust="spacingAndGlyphs">C57</text>
<text transform="translate(91.20,564.90) rotate(-45)" font-size="8" text-anchor="end" fill="#231f20" textLength="40.5" lengthAdjust="spacingAndGlyphs">Tg7 CD45.1</text>
<path d="M42.10 496.04 H63.70 M47.30 486.68 H58.50 M47.30 505.40 H58.50 M52.90 486.68 V505.40" stroke="#de6a7a" stroke-width="1.1" fill="none"/>
<path d="M76.20 487.07 H97.80 M81.40 484.34 H92.60 M81.40 490.19 H92.60 M87.00 484.34 V490.19" stroke="#6e96c2" stroke-width="1.1" fill="none"/>
<rect x="49.80" y="484.31" width="2.4" height="2.4" fill="#cc0a1e"/>
<rect x="53.60" y="484.31" width="2.4" height="2.4" fill="#cc0a1e"/>
<rect x="51.70" y="489.38" width="2.4" height="2.4" fill="#cc0a1e"/>
<rect x="51.70" y="522.30" width="2.4" height="2.4" fill="#cc0a1e"/>
<circle cx="88.60" cy="479.27" r="1.3" fill="#0a3a7a"/>
<circle cx="84.80" cy="481.53" r="1.3" fill="#0a3a7a"/>
<circle cx="84.80" cy="484.50" r="1.3" fill="#0a3a7a"/>
<circle cx="88.60" cy="486.68" r="1.3" fill="#0a3a7a"/>
<circle cx="81.10" cy="491.36" r="1.3" fill="#0a3a7a"/>
<circle cx="84.80" cy="493.70" r="1.3" fill="#0a3a7a"/>
<circle cx="88.60" cy="492.14" r="1.3" fill="#0a3a7a"/>
<circle cx="92.40" cy="490.58" r="1.3" fill="#0a3a7a"/>
<text transform="translate(12.90,517.80) rotate(-90) scale(0.6903,1)" x="0" y="0" font-size="8.8" text-anchor="middle" fill="#231f20" stroke="#231f20" stroke-width="0.16" word-spacing="1.4">% CD19<tspan font-size="5.46" dy="-3.52">+</tspan><tspan dy="3.52"> CD5</tspan><tspan font-size="5.46" dy="-3.52">+</tspan><tspan dy="3.52"> cells</tspan></text>
<text x="151.20" y="454.60" font-size="10.5" text-anchor="start" font-weight="bold" fill="#231f20" >I</text>
<text x="195.20" y="460.20" font-size="9.2" text-anchor="middle" fill="#231f20" >Blood</text>
<path d="M161.70 478.10 V556.10 H228.00" fill="none" stroke="#231f20" stroke-width="1.1"/>
<path d="M158.70 556.10 H161.70" stroke="#231f20" stroke-width="1"/>
<text x="155.60" y="559.00" font-size="8" text-anchor="end" fill="#231f20" >0</text>
<path d="M158.70 540.50 H161.70" stroke="#231f20" stroke-width="1"/>
<text x="155.60" y="543.40" font-size="8" text-anchor="end" fill="#231f20" >20</text>
<path d="M158.70 524.90 H161.70" stroke="#231f20" stroke-width="1"/>
<text x="155.60" y="527.80" font-size="8" text-anchor="end" fill="#231f20" >40</text>
<path d="M158.70 509.30 H161.70" stroke="#231f20" stroke-width="1"/>
<text x="155.60" y="512.20" font-size="8" text-anchor="end" fill="#231f20" >60</text>
<path d="M158.70 493.70 H161.70" stroke="#231f20" stroke-width="1"/>
<text x="155.60" y="496.60" font-size="8" text-anchor="end" fill="#231f20" >80</text>
<path d="M158.70 478.10 H161.70" stroke="#231f20" stroke-width="1"/>
<text x="155.60" y="481.00" font-size="8" text-anchor="end" fill="#231f20" >100</text>
<path d="M178.00 556.10 V559.10" stroke="#231f20" stroke-width="1"/>
<path d="M212.10 556.10 V559.10" stroke="#231f20" stroke-width="1"/>
<text transform="translate(180.50,564.70) rotate(-45)" font-size="8" text-anchor="end" fill="#231f20" textLength="14.4" lengthAdjust="spacingAndGlyphs">C57</text>
<text transform="translate(216.30,564.90) rotate(-45)" font-size="8" text-anchor="end" fill="#231f20" textLength="40.5" lengthAdjust="spacingAndGlyphs">Tg7 CD45.1</text>
<path d="M167.20 493.39 H188.80 M172.40 489.02 H183.60 M172.40 499.16 H183.60 M178.00 489.02 V499.16" stroke="#de6a7a" stroke-width="1.1" fill="none"/>
<path d="M201.30 499.16 H222.90 M206.50 494.48 H217.70 M206.50 503.84 H217.70 M212.10 494.48 V503.84" stroke="#6e96c2" stroke-width="1.1" fill="none"/>
<rect x="171.20" y="483.14" width="2.4" height="2.4" fill="#cc0a1e"/>
<rect x="174.90" y="484.70" width="2.4" height="2.4" fill="#cc0a1e"/>
<rect x="178.70" y="485.48" width="2.4" height="2.4" fill="#cc0a1e"/>
<rect x="182.40" y="483.92" width="2.4" height="2.4" fill="#cc0a1e"/>
<rect x="178.70" y="506.93" width="2.4" height="2.4" fill="#cc0a1e"/>
<rect x="174.90" y="510.44" width="2.4" height="2.4" fill="#cc0a1e"/>
<circle cx="208.50" cy="486.68" r="1.3" fill="#0a3a7a"/>
<circle cx="212.10" cy="486.68" r="1.3" fill="#0a3a7a"/>
<circle cx="215.70" cy="484.73" r="1.3" fill="#0a3a7a"/>
<circle cx="212.10" cy="492.14" r="1.3" fill="#0a3a7a"/>
<circle cx="212.10" cy="505.40" r="1.3" fill="#0a3a7a"/>
<circle cx="208.50" cy="512.42" r="1.3" fill="#0a3a7a"/>
<circle cx="212.10" cy="512.42" r="1.3" fill="#0a3a7a"/>
<circle cx="215.70" cy="512.42" r="1.3" fill="#0a3a7a"/>
<text transform="translate(137.90,518.10) rotate(-90) scale(0.6975,1)" x="0" y="0" font-size="8.8" text-anchor="middle" fill="#231f20" stroke="#231f20" stroke-width="0.16" word-spacing="1.4">% CD19<tspan font-size="5.46" dy="-3.52">+</tspan><tspan dy="3.52"> CD5</tspan><tspan font-size="5.46" dy="-3.52">+</tspan><tspan dy="3.52"> cells</tspan></text>
<text x="275.70" y="454.60" font-size="10.5" text-anchor="start" font-weight="bold" fill="#231f20" >J</text>
<text x="320.90" y="460.20" font-size="9.1" text-anchor="middle" fill="#231f20" >Spleen</text>
<path d="M287.40 478.10 V556.10 H354.00" fill="none" stroke="#231f20" stroke-width="1.1"/>
<path d="M284.40 556.10 H287.40" stroke="#231f20" stroke-width="1"/>
<text x="281.30" y="559.00" font-size="8" text-anchor="end" fill="#231f20" >0</text>
<path d="M284.40 540.50 H287.40" stroke="#231f20" stroke-width="1"/>
<text x="281.30" y="543.40" font-size="8" text-anchor="end" fill="#231f20" >20</text>
<path d="M284.40 524.90 H287.40" stroke="#231f20" stroke-width="1"/>
<text x="281.30" y="527.80" font-size="8" text-anchor="end" fill="#231f20" >40</text>
<path d="M284.40 509.30 H287.40" stroke="#231f20" stroke-width="1"/>
<text x="281.30" y="512.20" font-size="8" text-anchor="end" fill="#231f20" >60</text>
<path d="M284.40 493.70 H287.40" stroke="#231f20" stroke-width="1"/>
<text x="281.30" y="496.60" font-size="8" text-anchor="end" fill="#231f20" >80</text>
<path d="M284.40 478.10 H287.40" stroke="#231f20" stroke-width="1"/>
<text x="281.30" y="481.00" font-size="8" text-anchor="end" fill="#231f20" >100</text>
<path d="M303.60 556.10 V559.10" stroke="#231f20" stroke-width="1"/>
<path d="M337.60 556.10 V559.10" stroke="#231f20" stroke-width="1"/>
<text transform="translate(306.10,564.70) rotate(-45)" font-size="8" text-anchor="end" fill="#231f20" textLength="14.4" lengthAdjust="spacingAndGlyphs">C57</text>
<text transform="translate(341.80,564.90) rotate(-45)" font-size="8" text-anchor="end" fill="#231f20" textLength="40.5" lengthAdjust="spacingAndGlyphs">Tg7 CD45.1</text>
<path d="M292.80 489.57 H314.40 M298.00 485.51 H309.20 M298.00 493.70 H309.20 M303.60 485.51 V493.70" stroke="#de6a7a" stroke-width="1.1" fill="none"/>
<path d="M326.80 496.82 H348.40 M332.00 492.14 H343.20 M332.00 500.72 H343.20 M337.60 492.14 V500.72" stroke="#6e96c2" stroke-width="1.1" fill="none"/>
<rect x="300.50" y="479.63" width="2.4" height="2.4" fill="#cc0a1e"/>
<rect x="304.30" y="481.35" width="2.4" height="2.4" fill="#cc0a1e"/>
<rect x="304.30" y="494.29" width="2.4" height="2.4" fill="#cc0a1e"/>
<rect x="300.50" y="497.96" width="2.4" height="2.4" fill="#cc0a1e"/>
<circle cx="334.00" cy="484.73" r="1.3" fill="#0a3a7a"/>
<circle cx="337.60" cy="484.73" r="1.3" fill="#0a3a7a"/>
<circle cx="341.20" cy="483.56" r="1.3" fill="#0a3a7a"/>
<circle cx="337.60" cy="494.48" r="1.3" fill="#0a3a7a"/>
<circle cx="334.00" cy="506.18" r="1.3" fill="#0a3a7a"/>
<circle cx="338.80" cy="506.18" r="1.3" fill="#0a3a7a"/>
<circle cx="337.60" cy="515.54" r="1.3" fill="#0a3a7a"/>
<text transform="translate(264.10,518.10) rotate(-90) scale(0.6975,1)" x="0" y="0" font-size="8.8" text-anchor="middle" fill="#231f20" stroke="#231f20" stroke-width="0.16" word-spacing="1.4">% CD19<tspan font-size="5.46" dy="-3.52">+</tspan><tspan dy="3.52"> CD5</tspan><tspan font-size="5.46" dy="-3.52">+</tspan><tspan dy="3.52"> cells</tspan></text>
<text x="399.50" y="454.70" font-size="10.8" text-anchor="start" font-weight="bold" fill="#231f20" >K</text>
<text x="447.00" y="460.20" font-size="8.8" text-anchor="middle" fill="#231f20" >Bone marrow</text>
<path d="M413.70 478.10 V556.10 H480.00" fill="none" stroke="#231f20" stroke-width="1.1"/>
<path d="M410.70 556.10 H413.70" stroke="#231f20" stroke-width="1"/>
<text x="407.60" y="559.00" font-size="8" text-anchor="end" fill="#231f20" >0</text>
<path d="M410.70 540.50 H413.70" stroke="#231f20" stroke-width="1"/>
<text x="407.60" y="543.40" font-size="8" text-anchor="end" fill="#231f20" >20</text>
<path d="M410.70 524.90 H413.70" stroke="#231f20" stroke-width="1"/>
<text x="407.60" y="527.80" font-size="8" text-anchor="end" fill="#231f20" >40</text>
<path d="M410.70 509.30 H413.70" stroke="#231f20" stroke-width="1"/>
<text x="407.60" y="512.20" font-size="8" text-anchor="end" fill="#231f20" >60</text>
<path d="M410.70 493.70 H413.70" stroke="#231f20" stroke-width="1"/>
<text x="407.60" y="496.60" font-size="8" text-anchor="end" fill="#231f20" >80</text>
<path d="M410.70 478.10 H413.70" stroke="#231f20" stroke-width="1"/>
<text x="407.60" y="481.00" font-size="8" text-anchor="end" fill="#231f20" >100</text>
<path d="M429.90 556.10 V559.10" stroke="#231f20" stroke-width="1"/>
<path d="M463.60 556.10 V559.10" stroke="#231f20" stroke-width="1"/>
<text transform="translate(432.40,564.70) rotate(-45)" font-size="8" text-anchor="end" fill="#231f20" textLength="14.4" lengthAdjust="spacingAndGlyphs">C57</text>
<text transform="translate(467.80,564.90) rotate(-45)" font-size="8" text-anchor="end" fill="#231f20" textLength="40.5" lengthAdjust="spacingAndGlyphs">Tg7 CD45.1</text>
<path d="M419.10 529.11 H440.70 M424.30 514.76 H435.50 M424.30 543.31 H435.50 M429.90 514.76 V543.31" stroke="#de6a7a" stroke-width="1.1" fill="none"/>
<path d="M452.80 527.24 H474.40 M458.00 515.85 H469.20 M458.00 538.94 H469.20 M463.60 515.85 V538.94" stroke="#6e96c2" stroke-width="1.1" fill="none"/>
<rect x="428.70" y="486.42" width="2.4" height="2.4" fill="#cc0a1e"/>
<rect x="428.70" y="527.60" width="2.4" height="2.4" fill="#cc0a1e"/>
<rect x="428.70" y="545.15" width="2.4" height="2.4" fill="#cc0a1e"/>
<rect x="428.70" y="551.39" width="2.4" height="2.4" fill="#cc0a1e"/>
<circle cx="461.70" cy="483.95" r="1.3" fill="#0a3a7a"/>
<circle cx="465.50" cy="483.17" r="1.3" fill="#0a3a7a"/>
<circle cx="463.60" cy="503.84" r="1.3" fill="#0a3a7a"/>
<circle cx="456.10" cy="548.30" r="1.3" fill="#0a3a7a"/>
<circle cx="459.90" cy="550.64" r="1.3" fill="#0a3a7a"/>
<circle cx="463.60" cy="551.42" r="1.3" fill="#0a3a7a"/>
<circle cx="467.30" cy="550.64" r="1.3" fill="#0a3a7a"/>
<circle cx="471.10" cy="549.86" r="1.3" fill="#0a3a7a"/>
<text transform="translate(390.40,518.10) rotate(-90) scale(0.6975,1)" x="0" y="0" font-size="8.8" text-anchor="middle" fill="#231f20" stroke="#231f20" stroke-width="0.16" word-spacing="1.4">% CD19<tspan font-size="5.46" dy="-3.52">+</tspan><tspan dy="3.52"> CD5</tspan><tspan font-size="5.46" dy="-3.52">+</tspan><tspan dy="3.52"> cells</tspan></text>
</svg>
</body></html>
